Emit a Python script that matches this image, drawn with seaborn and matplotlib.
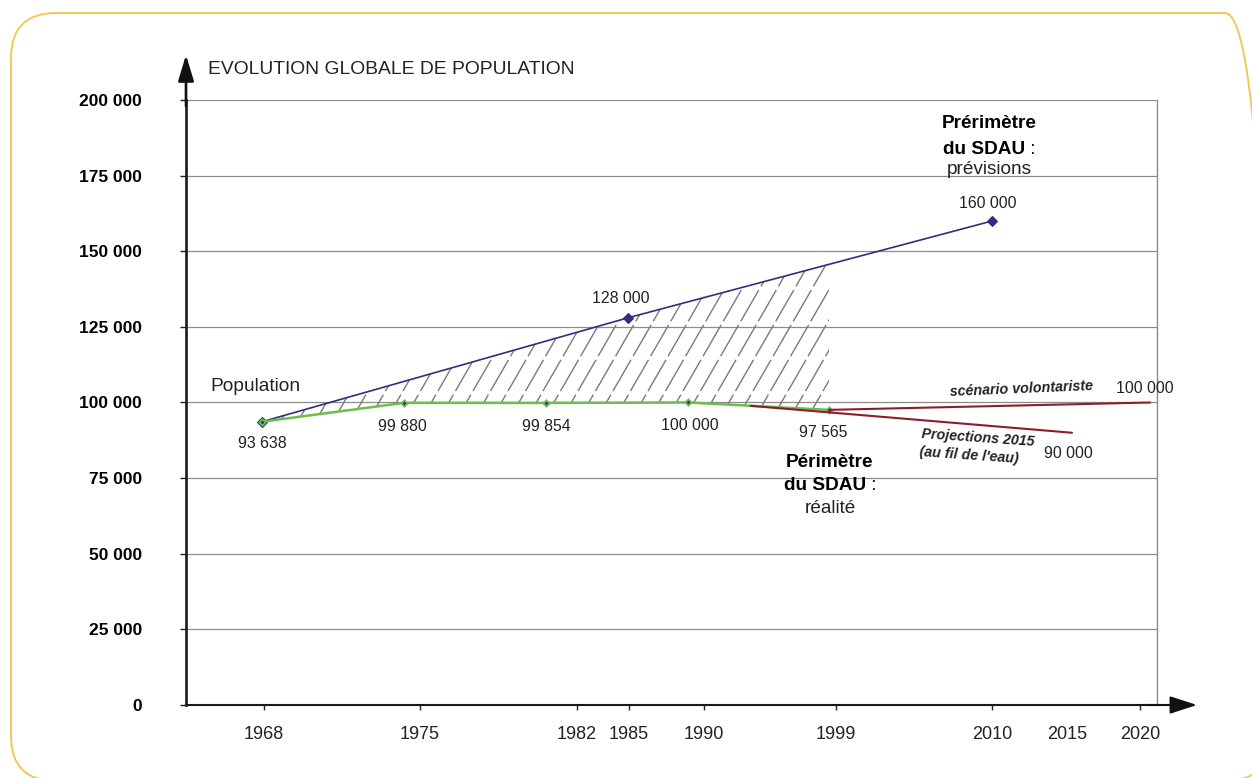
import numpy as np
import pandas as pd
import matplotlib
matplotlib.use("Agg")
import matplotlib.pyplot as plt
import matplotlib.transforms as mtransforms
from matplotlib.patches import FancyBboxPatch
from matplotlib.collections import LineCollection
import seaborn as sns

# ---------------- data ----------------
census_years = [1968, 1975, 1982, 1990, 1999]
census_pop = [93638, 99880, 99854, 100000, 97565]
census_labels = ["93 638", "99 880", "99 854", "100 000", "97 565"]

sdau_years = [1968, 1985, 2010]
sdau_pop = [93638, 128000, 160000]
sdau_labels = ["", "128 000", "160 000"]

proj_years = [1994, 2015]
proj_pop = [98900, 90000]
proj_label = "90 000"

volont_years = [1999, 2020]
volont_pop = [97565, 100000]
volont_label = "100 000"

tick_years = [1968, 1975, 1982, 1985, 1990, 1999, 2010, 2015, 2020]
y_ticks = [0, 25000, 50000, 75000, 100000, 125000, 150000, 175000, 200000]
y_tick_labels = [f"{v:,}".replace(",", " ") for v in y_ticks]

title = "EVOLUTION GLOBALE DE POPULATION"

# ---------------- layout (irregular year axis of the original drawing) ----------------
W, H = 1252, 778
data_anchor_years = [1950, 1968, 1975, 1982, 1985, 1990, 1999, 2010, 2015, 2020, 2040]
data_anchor_pos = [-103, 262, 404, 546, 628, 688, 829, 992, 1072, 1150, 1462]
label_anchor_years = [1950, 1968, 1975, 1982, 1985, 1990, 1999, 2010, 2015, 2020, 2040]
label_anchor_pos = [-140, 264, 420, 577, 629, 704, 836, 992, 1067, 1140, 1450]
X_LEFT, X_RIGHT, Y_TOP, Y_BOT = 186, 1157, 100, 705
AX_W, AX_H = X_RIGHT - X_LEFT, Y_BOT - Y_TOP


def data_fwd(x):
    return np.interp(x, data_anchor_years, data_anchor_pos)


def data_inv(p):
    return np.interp(p, data_anchor_pos, data_anchor_years)


def lab_fwd(x):
    return np.interp(x, label_anchor_years, label_anchor_pos)


def lab_inv(p):
    return np.interp(p, label_anchor_pos, label_anchor_years)


sns.set_theme(style="white")
plt.rcParams["font.family"] = ["Liberation Sans", "DejaVu Sans"]

PURPLE = "#2f2f7e"
GREEN = "#6cbd4b"
RED = "#8e1d27"
GRID = "#8c8c8c"
TXT = "#222222"

fig = plt.figure(figsize=(W / 100, H / 100), dpi=100)
fig.patch.set_facecolor("white")
ax = fig.add_axes([X_LEFT / W, 1 - Y_BOT / H, AX_W / W, AX_H / H])
ax.set_facecolor("white")
ax.set_xscale("function", functions=(data_fwd, data_inv))
ax.set_xlim(data_inv(X_LEFT), data_inv(X_RIGHT))
ax.set_ylim(0, 200000)

# grid
ax.set_axisbelow(True)
ax.yaxis.grid(True, color=GRID, lw=0.9)
ax.xaxis.grid(False)

# hatched gap between forecast and reality (1968-1999)
gap_years = sorted(set(census_years) | {1985})
gap_pos = data_fwd(np.array(gap_years, dtype=float))
upper = np.interp(gap_pos, data_fwd(np.array(sdau_years, dtype=float)), sdau_pop)
lower = np.interp(gap_pos, data_fwd(np.array(census_years, dtype=float)), census_pop)
gap = ax.fill_between(gap_years, lower, upper, facecolor="none", edgecolor="none",
                      linewidth=0, zorder=1)
# steep hatch pattern (about 60 degrees, ~17.5 px apart), clipped to the gap area
step_px, angle = 17.5, 60.0
shift = AX_H / np.tan(np.radians(angle))
starts = np.arange(-shift, AX_W + step_px, step_px)
segs = [[(s / AX_W, 0.0), ((s + shift) / AX_W, 1.0)] for s in starts]
hatch = LineCollection(segs, colors="#7a7a7a", linewidths=1.0, transform=ax.transAxes,
                       zorder=1, linestyles=[(0, (26, 3))])
ax.add_collection(hatch, autolim=False)
hatch.set_clip_path(gap.get_paths()[0], gap.get_transform())

# lines
df_sdau = pd.DataFrame({"year": sdau_years, "pop": sdau_pop})
df_census = pd.DataFrame({"year": census_years, "pop": census_pop})
df_proj = pd.DataFrame({"year": proj_years, "pop": proj_pop})
df_vol = pd.DataFrame({"year": volont_years, "pop": volont_pop})

sns.lineplot(data=df_sdau, x="year", y="pop", ax=ax, color=PURPLE, lw=1.2,
             marker="D", markersize=5.2, markeredgewidth=0.8, markeredgecolor=PURPLE,
             markerfacecolor=PURPLE, estimator=None, sort=False, zorder=3)
sns.lineplot(data=df_census, x="year", y="pop", ax=ax, color=GREEN, lw=1.8,
             marker="D", markersize=3.2, markeredgewidth=1.3, markeredgecolor=GREEN,
             markerfacecolor=PURPLE, estimator=None, sort=False, zorder=4)
sns.lineplot(data=df_proj, x="year", y="pop", ax=ax, color=RED, lw=1.5,
             estimator=None, sort=False, zorder=5)
sns.lineplot(data=df_vol, x="year", y="pop", ax=ax, color=RED, lw=1.5,
             estimator=None, sort=False, zorder=5)

# axes styling
ax.set_xlabel("")
ax.set_ylabel("")
ax.set_xticks([])
ax.set_yticks(y_ticks, labels=y_tick_labels)
ax.tick_params(axis="y", which="both", left=True, length=4.3, width=1, color=TXT,
               pad=27.5, labelsize=12.5, labelcolor="black")
for lab in ax.get_yticklabels():
    lab.set_fontweight("bold")
ax.spines["top"].set_visible(False)
ax.spines["right"].set_color(GRID)
ax.spines["right"].set_linewidth(1.0)
ax.spines["left"].set_color("#1a1a1a")
ax.spines["left"].set_linewidth(1.9)
ax.spines["bottom"].set_color("#1a1a1a")
ax.spines["bottom"].set_linewidth(1.5)

# arrows on the axes
ax.annotate("", xy=(0, (Y_BOT - 55) / AX_H), xytext=(0, 0.99),
            xycoords="axes fraction", textcoords="axes fraction",
            arrowprops=dict(arrowstyle="-|>,head_length=0.79,head_width=0.24",
                            color="#111111", lw=1.9, mutation_scale=20,
                            shrinkA=0, shrinkB=0), annotation_clip=False)
ax.annotate("", xy=((1197 - X_LEFT) / AX_W, 0), xytext=(0.99, 0),
            xycoords="axes fraction", textcoords="axes fraction",
            arrowprops=dict(arrowstyle="-|>,head_length=0.83,head_width=0.27",
                            color="#111111", lw=1.5, mutation_scale=20,
                            shrinkA=0, shrinkB=0), annotation_clip=False)

# year tick labels (placed as in the original drawing)
ax2 = ax.twiny()
ax2.set_xscale("function", functions=(lab_fwd, lab_inv))
ax2.set_xlim(lab_inv(X_LEFT), lab_inv(X_RIGHT))
ax2.set_xticks(tick_years, labels=[str(y) for y in tick_years])
ax2.xaxis.set_ticks_position("bottom")
ax2.xaxis.set_label_position("bottom")
ax2.tick_params(axis="x", length=3.6, width=1, color=TXT, direction="out",
                pad=11.5, labelsize=13, labelcolor=TXT)
for yr, tk in zip(tick_years, ax2.xaxis.get_major_ticks()):
    if yr == 2015:
        tk.tick1line.set_visible(False)
for s in ax2.spines.values():
    s.set_visible(False)
ax2.grid(False)


# value labels
def label(x, y, text, dx_px, dy_px, **kw):
    ax.annotate(text, xy=(x, y), xytext=(dx_px * 0.72, -dy_px * 0.72),
                textcoords="offset points", ha=kw.pop("ha", "center"),
                va=kw.pop("va", "center"), color=kw.pop("color", TXT),
                annotation_clip=False, **kw)


census_offsets = [(0, 22), (-2, 23.5), (0, 23.5), (2, 23.5), (-6, 23)]
for yr, v, t, (dx, dy) in zip(census_years, census_pop, census_labels, census_offsets):
    label(yr, v, t, dx, dy, fontsize=11.4)

sdau_offsets = [(0, 0), (-7, -19), (-4, -18)]
for yr, v, t, (dx, dy) in zip(sdau_years, sdau_pop, sdau_labels, sdau_offsets):
    if t:
        label(yr, v, t, dx, dy, fontsize=11.4)

label(proj_years[-1], proj_pop[-1], proj_label, -4, 21, fontsize=11.4)
label(volont_years[-1], volont_pop[-1], volont_label, -5, -13.5, fontsize=11.4)

label(census_years[0], census_pop[0], "Population", -52, -35, ha="left", fontsize=13.8)

label(volont_years[-1], volont_pop[-1], "scénario volontariste", -129, -13.5,
      fontsize=10.3, fontweight="bold", fontstyle="italic", rotation=2.4,
      rotation_mode="anchor")
label(proj_years[-1], proj_pop[-1], "Projections 2015", -94, 5,
      fontsize=10.3, fontweight="bold", fontstyle="italic", rotation=-4,
      rotation_mode="anchor")
label(proj_years[-1], proj_pop[-1], "(au fil de l'eau)", -103, 23,
      fontsize=10.3, fontweight="bold", fontstyle="italic", rotation=-4,
      rotation_mode="anchor")

# "Périmètre du SDAU : réalité" under the 1999 point
BIG = 13.7
label(census_years[-1], census_pop[-1], "Périmètre", 1, 53, fontsize=BIG,
      fontweight="bold", color="black")
label(census_years[-1], census_pop[-1], "du SDAU", 37, 76, ha="right", fontsize=BIG,
      fontweight="bold", color="black")
label(census_years[-1], census_pop[-1], " :", 37, 76, ha="left", fontsize=BIG,
      color="black")
label(census_years[-1], census_pop[-1], "réalité", 1, 99, fontsize=BIG)

# "Prérimètre du SDAU : prévisions" above the 2010 point
label(sdau_years[-1], sdau_pop[-1], "Prérimètre", -3, -97, fontsize=BIG,
      fontweight="bold", color="black")
label(sdau_years[-1], sdau_pop[-1], "du SDAU", 33, -72, ha="right", fontsize=BIG,
      fontweight="bold", color="black")
label(sdau_years[-1], sdau_pop[-1], " :", 33, -72, ha="left", fontsize=BIG,
      color="black")
label(sdau_years[-1], sdau_pop[-1], "prévisions", -3, -52, fontsize=BIG)

# title
fig.text(208 / W, 1 - 70 / H, title, ha="left", va="center", fontsize=13.9, color=TXT)

# rounded frame
frame = FancyBboxPatch((11, H - 781), 1259, 768,
                       boxstyle="round,pad=0,rounding_size=45",
                       transform=mtransforms.IdentityTransform(),
                       facecolor="none", edgecolor="#f3c646", lw=1.3)
fig.add_artist(frame)

fig.savefig("out.png", dpi=100)
